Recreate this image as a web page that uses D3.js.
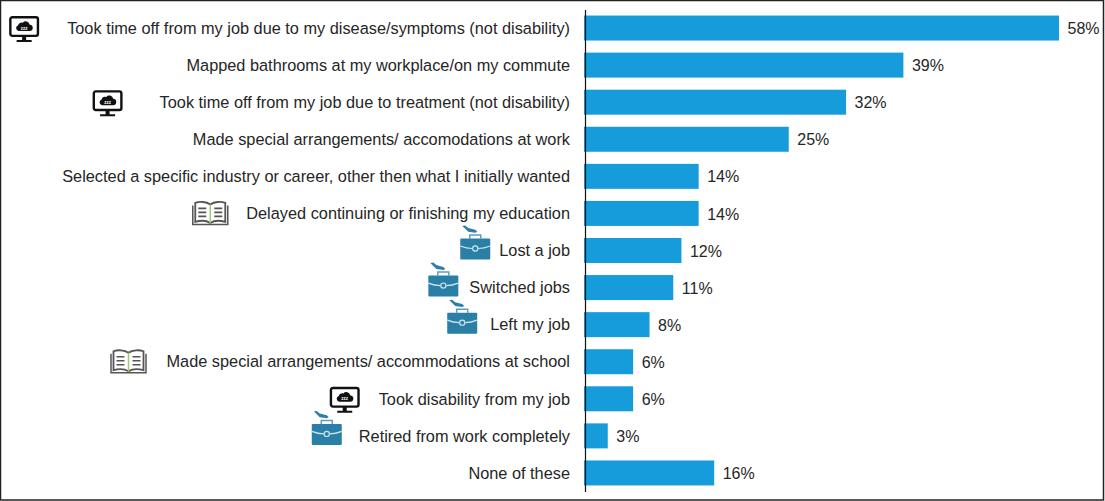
<!DOCTYPE html>
<html>
<head>
<meta charset="utf-8">
<script src="https://d3js.org/d3.v7.min.js"></script>
<style>
  html, body { margin: 0; padding: 0; background: #fff; }
  svg { display: block; }
  text { font-family: "Liberation Sans", Arial, sans-serif; fill: #262626; }
</style>
</head>
<body>
<div id="vis"></div>
<script>
// Chart data
const CATEGORIES = [
  "Took time off from my job due to my disease/symptoms (not disability)",
  "Mapped bathrooms at my workplace/on my commute",
  "Took time off from my job due to treatment (not disability)",
  "Made special arrangements/ accomodations at work",
  "Selected a specific industry or career, other then what I initially wanted",
  "Delayed continuing or finishing my education",
  "Lost a job",
  "Switched jobs",
  "Left my job",
  "Made special arrangements/ accommodations at school",
  "Took disability from my job",
  "Retired from work completely",
  "None of these"
];
const VALUES = [58, 39, 32, 25, 14, 14, 11.9, 10.9, 8, 6, 6, 2.9, 15.9];
const ICON_KINDS = ["screen", null, "screen", null, null, "book", "case", "case", "case", "book", "screen", "case", null];
const ICON_GAPS = [28, 0, 37, 0, 0, 17, 9, 11, 13, 19, 19, 17, 0];

const FRAME_WIDTH = 1105;
const FRAME_HEIGHT = 501;
const MARGINS = {left: 585, right: 46, top: 9.5, bottom: 9.5};

const FRAME = d3.select("#vis")
  .append("svg")
    .attr("width", FRAME_WIDTH)
    .attr("height", FRAME_HEIGHT);

const X_SCALE = d3.scaleLinear()
  .domain([0, 58])
  .range([MARGINS.left - 1, FRAME_WIDTH - MARGINS.right]);

const Y_SCALE = d3.scaleBand()
  .domain(CATEGORIES)
  .range([MARGINS.top, FRAME_HEIGHT - MARGINS.bottom])
  .paddingInner(0.326)
  .paddingOuter(0.163);

// outer border of the picture
FRAME.append("rect")
  .attr("x", 0.5).attr("y", 0.5)
  .attr("width", FRAME_WIDTH - 2).attr("height", FRAME_HEIGHT - 1.5)
  .attr("fill", "none").attr("stroke", "#222").attr("stroke-width", 1.5);

// bars
FRAME.selectAll(".bar")
  .data(VALUES)
  .enter()
  .append("rect")
    .attr("class", "bar")
    .attr("x", X_SCALE(0))
    .attr("y", (d, i) => Y_SCALE(CATEGORIES[i]))
    .attr("width", (d) => X_SCALE(d) - X_SCALE(0))
    .attr("height", Y_SCALE.bandwidth())
    .attr("fill", "#169cda");

// value labels
FRAME.selectAll(".value")
  .data(VALUES)
  .enter()
  .append("text")
    .attr("class", "value")
    .attr("x", (d) => X_SCALE(d) + 8.5)
    .attr("y", (d, i) => Y_SCALE(CATEGORIES[i]) + Y_SCALE.bandwidth() / 2 + 0.5)
    .attr("dy", "0.35em")
    .attr("font-size", 16)
    .text((d) => Math.round(d) + "%");

// category axis, line only with labels
const AXIS = FRAME.append("g")
  .attr("transform", "translate(" + MARGINS.left + ",0)")
  .call(d3.axisLeft(Y_SCALE).tickSize(0).tickPadding(15));
AXIS.select(".domain").attr("stroke", "#111").attr("stroke-width", 1.2);
AXIS.selectAll("text")
  .attr("font-size", 16.32)
  .attr("font-family", "Liberation Sans, Arial, sans-serif")
  .attr("dy", "0.35em")
  .style("fill", "#262626");

// little icons in front of some labels
function drawScreen(g) {
  g.append("rect").attr("x", 1.2).attr("y", 1.2).attr("width", 27.6).attr("height", 18.6)
    .attr("rx", 2).attr("fill", "#fff").attr("stroke", "#111").attr("stroke-width", 2.4);
  g.append("path").attr("d", "M13 20h4v4h-4z M7.500 24h15v2h-15z").attr("fill", "#111");
  g.append("path")
    .attr("d", "M9.500 15a3 3 0 0 1 -.5 -5.800a3.400 3.400 0 0 1 4.600 -2.500a4 4 0 0 1 7 1.900a3.200 3.200 0 0 1 -.4 6.400z")
    .attr("fill", "#111");
  g.append("text").attr("x", 15).attr("y", 13.6).attr("text-anchor", "middle")
    .attr("font-size", 4.5).attr("font-weight", "bold").style("fill", "#fff").text("zzz");
}

function drawBook(g) {
  const LINE = "#555";
  g.append("path")
    .attr("d", "M19 5c-4-3-11-3-15-1.500v19c5-1.500 11-1.500 15 1c4-2.500 10-2.500 15 -1v-19c-4-1.500-11-1.500-15 1.500z")
    .attr("fill", "#fff").attr("stroke", LINE).attr("stroke-width", 1.8);
  g.append("path").attr("d", "M1.500 6v19h35v-19").attr("fill", "none").attr("stroke", LINE).attr("stroke-width", 1.5);
  g.append("path")
    .attr("d", "M7 9h8 M7 13h8 M7 17h8 M23 9h8 M23 13h8 M23 17h8")
    .attr("stroke", LINE).attr("stroke-width", 1.6);
  g.append("path").attr("d", "M19 5v19").attr("stroke", "#9ccb7a").attr("stroke-width", 1.5);
}

function drawCase(g) {
  // small arrow-ish mark above the handle
  g.append("path")
    .attr("d", "M2 -7.500l3 -.5l3 2.500l7 1.800l2 2l-2 1l-7 -1l-3 -3z")
    .attr("fill", "#2f7fa6");
  g.append("path")
    .attr("d", "M9.500 5v-3.500h11v3.500")
    .attr("fill", "none").attr("stroke", "#5d9dbc").attr("stroke-width", 1.5);
  g.append("rect").attr("x", 0).attr("y", 5).attr("width", 30).attr("height", 21)
    .attr("rx", 1).attr("fill", "#2a7fa6");
  g.append("path").attr("d", "M0 12.500c5 2 9 2.500 12 2.500M18 15c3 0 7 -.5 12 -2.500")
    .attr("fill", "none").attr("stroke", "#cfe4ee").attr("stroke-width", 1.2);
  g.append("circle").attr("cx", 15).attr("cy", 15).attr("r", 2.6)
    .attr("fill", "#2a7fa6").attr("stroke", "#cfe4ee").attr("stroke-width", 1.2);
}

const ICON_DRAW = {screen: drawScreen, book: drawBook, case: drawCase};
const ICON_WIDTH = {screen: 30, book: 38, case: 30};
const ICON_TOP = {screen: -12, book: -14, case: -17};

AXIS.selectAll(".tick text").each(function(d, i) {
  const KIND = ICON_KINDS[i];
  if (!KIND) return;
  const BOX = this.getBBox();
  const LEFT = MARGINS.left + BOX.x - ICON_GAPS[i] - ICON_WIDTH[KIND];
  const TOP = Y_SCALE(d) + Y_SCALE.bandwidth() / 2 + ICON_TOP[KIND];
  ICON_DRAW[KIND](FRAME.append("g")
    .attr("class", "icon")
    .attr("transform", "translate(" + LEFT + "," + TOP + ")"));
});
</script>
</body>
</html>
